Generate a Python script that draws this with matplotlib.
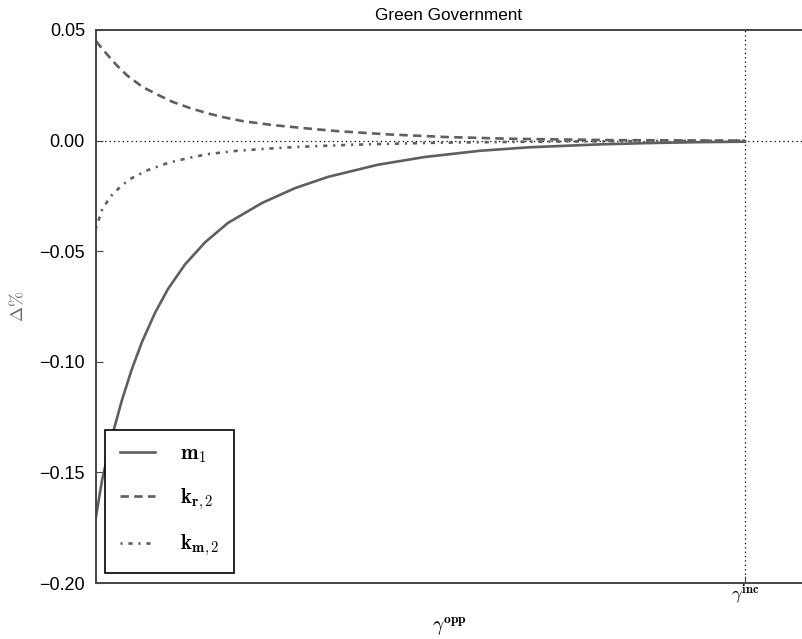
import matplotlib
matplotlib.use("Agg")
import numpy as np
import matplotlib.pyplot as plt

plt.rcParams['mathtext.fontset'] = 'cm'
plt.rcParams['font.family'] = ['Liberation Sans', 'DejaVu Sans']

# gamma^opp grid, scaled so that gamma^inc = 1
x_m1 = [0.000, 0.0092, 0.0247, 0.0401, 0.0555, 0.0709, 0.0909, 0.1109, 0.1371,
        0.1680, 0.2034, 0.2558, 0.3066, 0.3575, 0.4345, 0.5069, 0.5917, 0.6687,
        0.7766, 0.8536, 0.9307, 1.000]
m1 = [-0.170, -0.1537, -0.1336, -0.1172, -0.1031, -0.0910, -0.0779, -0.0671,
      -0.0560, -0.0460, -0.0372, -0.0282, -0.0215, -0.0164, -0.0109, -0.0074,
      -0.0046, -0.0030, -0.0017, -0.0011, -0.0007, -0.0005]

x_kr2 = [0.000, 0.011, 0.032, 0.049, 0.072, 0.096, 0.119, 0.145, 0.171,
         0.196, 0.226, 0.273, 0.325, 0.371, 0.450, 0.541, 0.643, 0.800, 1.000]
kr2 = [0.045, 0.041, 0.034, 0.0292, 0.0242, 0.0206, 0.0174, 0.0147, 0.0124,
       0.0106, 0.0088, 0.0070, 0.0055, 0.0043, 0.0028, 0.0016, 0.0008, 0.0002, 0.0]

x_km2 = [0.000, 0.0092, 0.0216, 0.0401, 0.0555, 0.0801, 0.1109, 0.1418, 0.1726,
         0.2142, 0.2558, 0.3066, 0.3914, 0.5146, 0.6687, 0.8536, 1.000]
km2 = [-0.0396, -0.0314, -0.0255, -0.0201, -0.0169, -0.0133, -0.0101, -0.0079,
       -0.0061, -0.0047, -0.0038, -0.0029, -0.0019, -0.0010, -0.0005, -0.0002, 0.0]

gamma_inc = 1.0
yticks = [0.05, 0.00, -0.05, -0.10, -0.15, -0.20]

grey = '#5f5f5f'
fig = plt.figure(figsize=(8.02, 6.39), dpi=100)
ax = fig.add_axes([96 / 802, 56 / 639, 706 / 802, 553 / 639])

ax.plot(x_m1, m1, color=grey, lw=1.9, label=r'$\mathbf{m}_1$')
ax.plot(x_kr2, kr2, color=grey, lw=1.9, dashes=(3.2, 2.0),
        label=r'$\mathbf{k}_{\mathbf{r},2}$')
ax.plot(x_km2, km2, color=grey, lw=1.9, dashes=(0.8, 2.2, 1.6, 2.2),
        label=r'$\mathbf{k}_{\mathbf{m},2}$')

ax.axhline(0, color='k', lw=0.9, ls=(0, (1, 2.5)), zorder=0)
ax.axvline(gamma_inc, color='k', lw=0.9, ls=(0, (1, 2.5)), zorder=0)

ax.set_xlim(0, 706 / 649)
ax.set_ylim(-0.20, 0.05)
ax.set_yticks(yticks)
ax.set_yticklabels([f'{v:.2f}'.replace('-', '\u2212') for v in yticks])
ax.set_xticks([gamma_inc])
ax.set_xticklabels([r'$\gamma^{\mathbf{inc}}$'], fontsize=13)
ax.tick_params(direction='in', length=5, color='#444444', labelsize=13, pad=8)
ax.tick_params(axis='x', pad=0)

for side in ('left', 'top', 'bottom'):
    ax.spines[side].set_color('#444444')
    ax.spines[side].set_linewidth(1.4)
ax.spines['right'].set_visible(False)

ax.set_title('Green Government', fontsize=12.3, pad=7)
ax.set_ylabel(r'$\Delta\%$', fontsize=13, color='#666666')
ax.yaxis.set_label_coords(-0.097, 0.5)
ax.set_xlabel(r'$\gamma^{\mathbf{opp}}$', fontsize=14, labelpad=6)

leg = ax.legend(loc='lower left', bbox_to_anchor=(0.0127, 0.018), borderaxespad=0,
                fontsize=15, handlelength=1.7, handletextpad=1.2,
                labelspacing=1.0, borderpad=0.7, fancybox=False, framealpha=1)
leg.get_frame().set_edgecolor('k')
leg.get_frame().set_linewidth(1.2)

fig.savefig('out.png', dpi=100)
